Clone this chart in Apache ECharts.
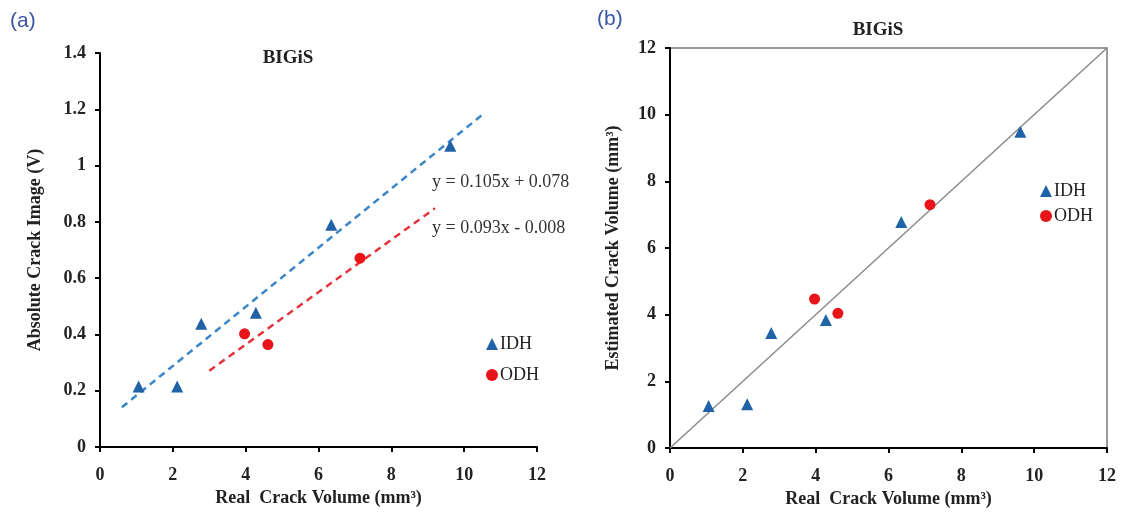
<!DOCTYPE html>
<html><head><meta charset="utf-8">
<script src="https://cdn.jsdelivr.net/npm/echarts@6/dist/echarts.min.js"></script>
<style>html,body{margin:0;padding:0;background:#fff}#c{width:1135px;height:520px}</style>
</head><body><div id="c"></div>
<script>
// ---- data ----
const idhReal = [1.06, 2.12, 2.78, 4.28, 6.35, 9.62];
const idhImage = [0.215, 0.215, 0.438, 0.477, 0.79, 1.07];
const odhReal = [3.97, 4.61, 7.14];
const odhImage = [0.402, 0.364, 0.671];
const idhEstimated = [1.26, 1.31, 3.45, 3.84, 6.78, 9.49];
const odhEstimated = [4.47, 4.04, 7.30];
const idhTrend = [[0.6, 0.141], [10.55, 1.186]];
const odhTrend = [[3.0, 0.271], [9.2, 0.848]];
const diagonal = [[0, 0], [12, 12]];
const seriesNames = ['IDH', 'ODH'];
const eqIDH = 'y = 0.105x + 0.078';
const eqODH = 'y = 0.093x - 0.008';
const titleText = 'BIGiS';
const xName = 'Real  Crack Volume (mm³)';
const yNameA = 'Absolute Crack Image (V)';
const yNameB = 'Estimated Crack Volume (mm³)';

const pair = (xs, ys) => xs.map((x, i) => [x, ys[i]]);
const serif = '"Liberation Serif", "DejaVu Serif", serif';
const blue = '#1f62a6', red = '#e8141a';
const lblStyle = {fontFamily: serif, fontWeight: 'bold', fontSize: 18, color: '#222'};
const nameStyle = {fontFamily: serif, fontWeight: 'bold', fontSize: 18, color: '#222'};

const chart = echarts.init(document.getElementById('c'), null, {renderer: 'canvas'});
chart.setOption({
  animation: false,
  backgroundColor: '#fff',
  grid: [
    {left: 100, top: 53, width: 437, height: 394, show: false},
    {left: 670, top: 48, width: 437, height: 400, show: true, borderColor: '#7a7a7a', borderWidth: 1.5, backgroundColor: 'transparent'}
  ],
  xAxis: [
    {gridIndex: 0, type: 'value', min: 0, max: 12, interval: 2, name: xName, nameLocation: 'middle', nameGap: 36, nameTextStyle: nameStyle,
     axisLine: {lineStyle: {color: '#000', width: 2}}, axisTick: {show: true, length: 5, lineStyle: {color: '#000', width: 2}},
     axisLabel: Object.assign({margin: 19}, lblStyle), splitLine: {show: false}},
    {gridIndex: 1, type: 'value', min: 0, max: 12, interval: 2, name: xName, nameLocation: 'middle', nameGap: 36, nameTextStyle: nameStyle,
     axisLine: {lineStyle: {color: '#000', width: 2}}, axisTick: {show: true, length: 5, lineStyle: {color: '#000', width: 2}},
     axisLabel: Object.assign({margin: 19}, lblStyle), splitLine: {show: false}}
  ],
  yAxis: [
    {gridIndex: 0, type: 'value', min: 0, max: 1.4, interval: 0.2, name: yNameA, nameLocation: 'middle', nameGap: 56, nameTextStyle: nameStyle,
     axisLine: {show: true, lineStyle: {color: '#000', width: 2}}, axisTick: {show: true, length: 5, lineStyle: {color: '#000', width: 2}},
     axisLabel: Object.assign({margin: 14}, lblStyle), splitLine: {show: false}},
    {gridIndex: 1, type: 'value', min: 0, max: 12, interval: 2, name: yNameB, nameLocation: 'middle', nameGap: 48, nameTextStyle: nameStyle,
     axisLine: {show: true, lineStyle: {color: '#000', width: 2}}, axisTick: {show: true, length: 5, lineStyle: {color: '#000', width: 2}},
     axisLabel: Object.assign({margin: 14}, lblStyle), splitLine: {show: false}}
  ],
  legend: [
    {orient: 'vertical', left: 481, top: 330, itemWidth: 12, itemHeight: 12, itemGap: 13,
     textStyle: {fontFamily: serif, fontSize: 18, color: '#222', padding: [0, 0, 0, -3]},
     data: [{name: seriesNames[0], icon: 'triangle'}, {name: seriesNames[1], icon: 'circle'}]},
    {orient: 'vertical', left: 1035, top: 177, itemWidth: 12, itemHeight: 12, itemGap: 7,
     textStyle: {fontFamily: serif, fontSize: 18, color: '#222', padding: [0, 0, 0, -3]},
     data: [{name: seriesNames[0], icon: 'triangle'}, {name: seriesNames[1], icon: 'circle'}]}
  ],
  graphic: [
    {type: 'text', left: 10, top: 11, style: {text: '(a)', fill: '#3b55a8', font: '21px "Liberation Sans", sans-serif'}},
    {type: 'text', left: 597, top: 9, style: {text: '(b)', fill: '#3b55a8', font: '21px "Liberation Sans", sans-serif'}},
    {type: 'text', x: 288, y: 58, style: {text: titleText, fill: '#222', font: 'bold 19px ' + serif, textAlign: 'center', textVerticalAlign: 'middle'}},
    {type: 'text', x: 878, y: 30, style: {text: titleText, fill: '#222', font: 'bold 19px ' + serif, textAlign: 'center', textVerticalAlign: 'middle'}},
    {type: 'text', x: 432, y: 182, style: {text: eqIDH, fill: '#333', font: '18px ' + serif, textVerticalAlign: 'middle'}},
    {type: 'text', x: 432, y: 228, style: {text: eqODH, fill: '#333', font: '18px ' + serif, textVerticalAlign: 'middle'}}
  ],
  series: [
    {name: 'trendIDH', type: 'line', xAxisIndex: 0, yAxisIndex: 0, data: idhTrend, showSymbol: false, symbol: 'none', silent: true,
     lineStyle: {color: '#3a86c8', width: 2.5, type: [7, 5]}, z: 1},
    {name: 'trendODH', type: 'line', xAxisIndex: 0, yAxisIndex: 0, data: odhTrend, showSymbol: false, symbol: 'none', silent: true,
     lineStyle: {color: '#e2363e', width: 2.5, type: [7, 5]}, z: 1},
    {name: seriesNames[0], type: 'scatter', xAxisIndex: 0, yAxisIndex: 0, symbol: 'triangle', symbolSize: 12, data: pair(idhReal, idhImage), itemStyle: {color: blue, opacity: 1}, z: 3},
    {name: seriesNames[1], type: 'scatter', xAxisIndex: 0, yAxisIndex: 0, symbol: 'circle', symbolSize: 11, data: pair(odhReal, odhImage), itemStyle: {color: red, opacity: 1}, z: 3},
    {name: 'diag', type: 'line', xAxisIndex: 1, yAxisIndex: 1, data: diagonal, showSymbol: false, symbol: 'none', silent: true,
     lineStyle: {color: '#8a8a8a', width: 1.5}, z: 1},
    {name: seriesNames[0], type: 'scatter', xAxisIndex: 1, yAxisIndex: 1, symbol: 'triangle', symbolSize: 12, data: pair(idhReal, idhEstimated), itemStyle: {color: blue, opacity: 1}, z: 3},
    {name: seriesNames[1], type: 'scatter', xAxisIndex: 1, yAxisIndex: 1, symbol: 'circle', symbolSize: 11, data: pair(odhReal, odhEstimated), itemStyle: {color: red, opacity: 1}, z: 3}
  ]
});
</script></body></html>
